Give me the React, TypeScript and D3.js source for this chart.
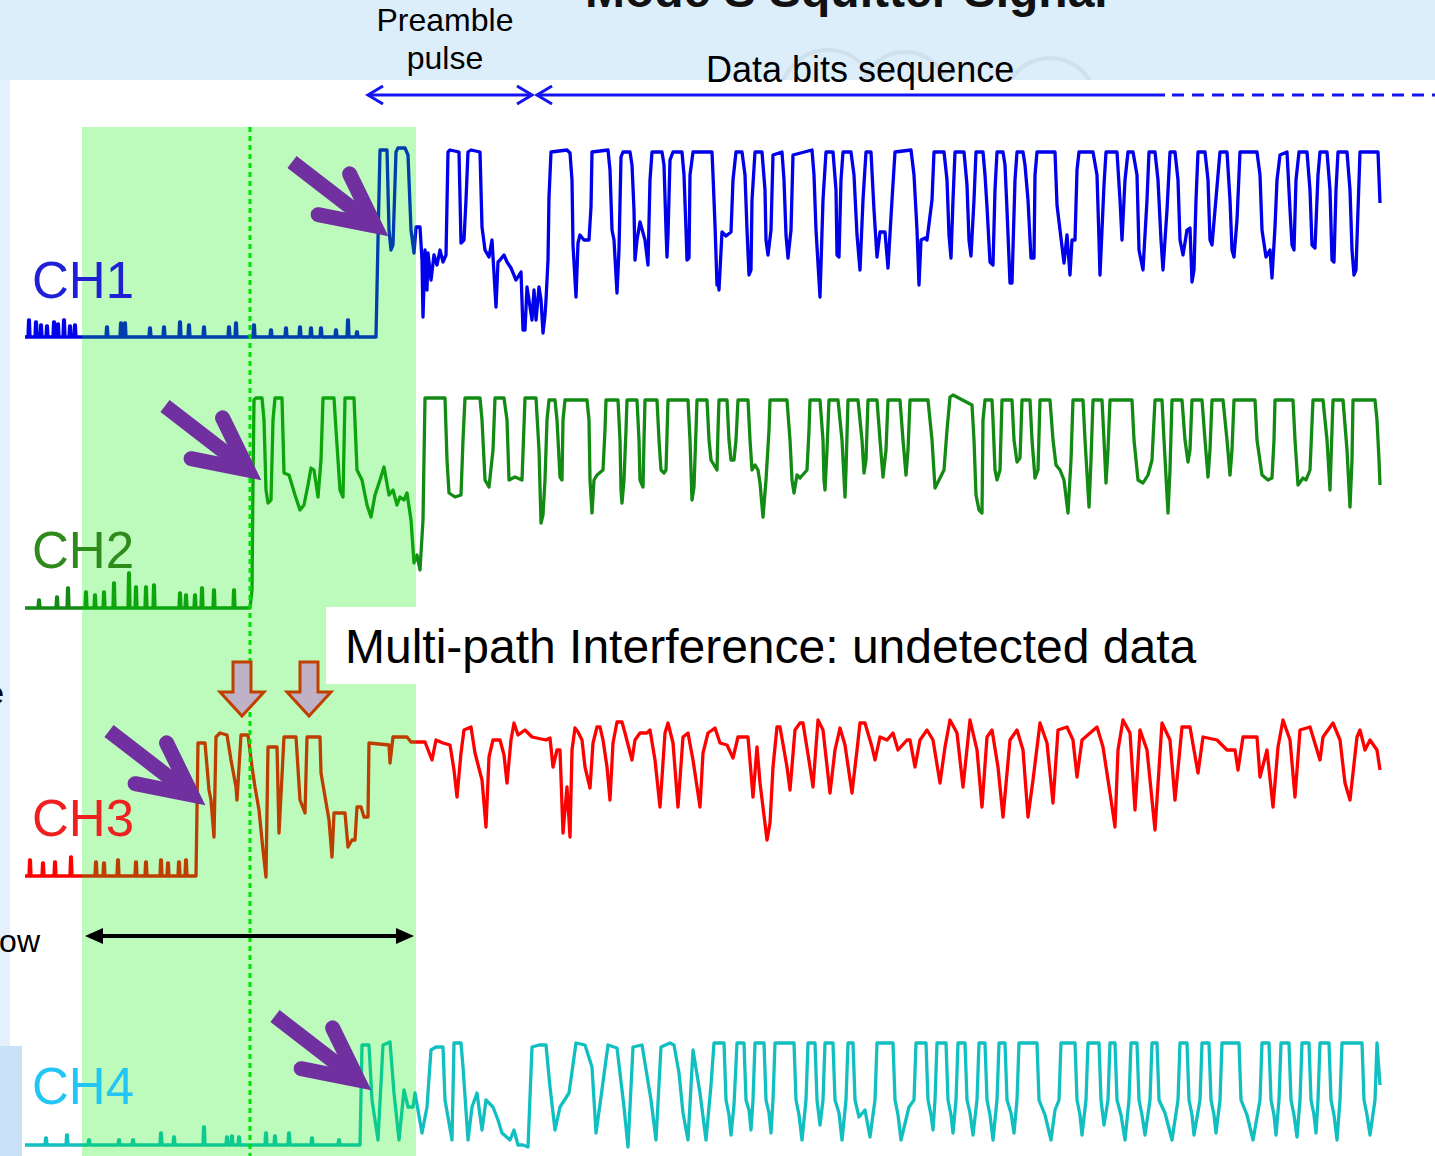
import React, { useEffect, useRef } from 'react';
import * as d3 from 'd3';

const width = 1435;
const height = 1156;

// sample index (digitizer clock) and amplitude counts above each channel's noise floor
const labels = ['CH1', 'CH2', 'CH3', 'CH4'];

const ch1Noise = [[4,17],[11,15],[16,12],[22,11],[29,15],[33,13],[39,17],[45,11],[50,12],[82,10],[96,14],[100,14],[125,9],[139,10],[155,15],[164,12],[179,10],[204,10],[211,14],[229,12],[246,7],[261,9],[275,10],[286,9],[296,9],[311,7],[323,17],[332,5]];
const ch1Trace = [[351,0],[353,97],[355,187],[362,187],[364,107],[366,87],[368,92],[371,185],[373,189],[380,189],[383,182],[386,107],[389,84],[391,110],[395,110],[397,77],[398,20],[400,87],[402,47],[403,84],[406,57],[409,82],[412,72],[415,87],[418,75],[421,82],[423,185],[425,187],[434,185],[436,94],[439,97],[441,137],[443,185],[446,187],[455,185],[457,110],[460,87],[464,80],[467,97],[471,30],[473,75],[475,77],[479,82],[482,75],[486,69],[491,57],[496,65],[498,7],[500,7],[502,50],[504,37],[507,17],[509,47],[511,17],[514,50],[516,37],[518,4],[520,22],[521,37],[523,77],[524,140],[526,185],[542,187],[545,184],
  [547,157],[548,92],[551,40],[553,94],[555,102],[559,97],[564,97],[566,130],[567,185],[583,187],
  [585,167],[587,107],[589,97],[592,44],[594,87],[596,180],[598,185],[605,185],
  [607,172],[609,127],[610,77],[612,97],[615,115],[620,97],[623,72],[625,157],[627,185],[637,185],
  [639,172],[641,107],[642,80],[643,102],[645,177],[648,185],[657,185],
  [659,162],[661,107],[662,77],[664,79],[665,162],[668,185],[687,185],
  [688,162],[690,112],[692,52],[693,62],[694,47],[697,105],[701,101],[706,105],[708,157],[711,185],[717,185],
  [720,162],[722,107],[724,62],[726,67],[727,137],[730,185],[737,185],
  [740,147],[741,97],[743,82],[746,107],[748,182],[757,185],
  [759,157],[761,102],[763,79],[766,107],[768,182],[787,187],
  [789,162],[791,107],[795,40],[798,137],[801,185],[808,185],
  [811,147],[812,82],[814,80],[816,157],[818,185],[826,185],
  [829,162],[832,102],[835,67],[838,137],[841,185],[846,185],
  [849,127],[852,80],[855,105],[860,105],[863,69],[867,137],[870,185],[886,187],
  [889,162],[892,107],[894,52],[896,97],[900,99],[902,97],[907,137],[909,185],[919,185],
  [922,157],[924,102],[926,79],[928,137],[930,185],[939,185],
  [942,152],[944,97],[946,81],[949,137],[951,185],[958,185],
  [960,162],[962,130],[965,75],[968,72],[970,147],[972,185],[978,185],
  [980,172],[982,127],[985,54],[987,54],[990,157],[992,185],[998,185],
  [1000,172],[1003,137],[1006,79],[1009,79],[1010,162],[1012,185],[1030,185],
  [1032,132],[1035,107],[1039,74],[1042,102],[1045,62],[1047,97],[1050,97],[1052,167],[1054,185],[1068,185],
  [1072,162],[1074,97],[1075,62],[1079,152],[1081,185],[1092,185],
  [1095,137],[1097,97],[1100,157],[1103,185],[1108,185],
  [1112,162],[1114,87],[1118,67],[1122,137],[1124,185],[1130,185],
  [1133,157],[1136,97],[1138,67],[1142,127],[1145,185],[1150,185],
  [1153,157],[1155,97],[1158,82],[1162,107],[1165,109],[1167,55],[1169,67],[1171,137],[1173,185],[1180,185],
  [1183,157],[1185,97],[1187,92],[1193,162],[1195,185],[1202,185],
  [1205,137],[1207,87],[1209,80],[1212,117],[1215,185],[1232,185],
  [1235,162],[1237,107],[1241,80],[1245,87],[1247,59],[1250,110],[1252,157],[1255,182],[1262,185],
  [1265,127],[1267,92],[1269,87],[1271,157],[1274,185],[1282,185],
  [1285,147],[1287,92],[1290,89],[1293,162],[1295,185],[1302,185],
  [1305,147],[1307,77],[1309,75],[1311,147],[1313,185],[1322,185],
  [1325,147],[1327,87],[1329,62],[1331,67],[1333,127],[1335,185],[1353,185],[1355,134]];

const ch2Noise = [[14,8],[32,11],[43,20],[61,16],[70,13],[79,16],[89,25],[104,35],[111,21],[121,21],[129,23],[155,15],[161,13],[170,13],[177,20],[189,18],[209,18]];
const ch2Trace = [[225,0],[227,18],[228,128],[229,208],[231,210],[237,210],[239,188],[241,118],[243,105],[246,108],[248,188],[250,210],[257,210],[259,135],[264,133],[270,113],[275,98],[279,103],[283,123],[286,140],[289,138],[293,111],[296,148],[298,210],[302,210],[309,210],[311,178],[315,118],[318,111],[320,210],[329,210],[332,138],[337,128],[342,103],[346,91],[350,113],[355,128],[359,141],[364,113],[368,118],[372,103],[375,111],[379,108],[382,115],[386,88],[389,45],[392,53],[395,38],[398,88],[400,210],
  [420,210],[422,148],[424,115],[430,111],[436,113],[438,168],[440,210],[455,210],[457,188],[460,128],[464,121],[468,158],[470,210],[479,210],[482,188],[484,128],[490,131],[497,128],[500,210],[511,210],[514,158],[516,85],[518,93],[520,128],[522,188],[524,208],[530,208],
  [532,188],[535,131],[537,128],[538,188],[540,208],[562,208],[564,188],[565,128],[567,95],[569,128],[572,133],[578,138],[580,178],[581,208],[593,208],[595,168],[596,118],[597,105],[599,128],[601,178],[602,208],[612,208],[614,168],[615,128],[618,121],[619,168],[620,208],[632,208],[634,168],[636,138],[639,135],[641,138],[643,208],[663,208],[665,168],[667,108],[669,121],[671,178],[672,208],[682,208],[684,168],[686,148],[689,143],[692,138],[693,178],[694,208],[702,208],[704,168],[706,148],[709,148],[711,168],[713,208],[723,208],[725,168],[727,138],[730,143],[733,138],[735,125],[738,91],[741,128],[744,178],[745,208],[762,208],[765,168],[767,128],[769,115],[772,133],[775,130],[782,138],[784,178],[785,208],[795,208],[798,168],[799,128],[800,118],[802,158],[804,208],[813,208],[817,168],[820,111],[821,138],[823,208],[833,208],[837,168],[839,135],[841,148],[843,208],[852,208],[855,168],[858,131],[861,158],[863,208],[875,208],[878,168],[881,133],[883,158],[885,208],[903,208],[907,168],[910,120],[915,130],[919,138],[922,178],[925,211],[928,213],[947,203],[949,168],[951,113],[954,98],[957,95],[958,188],[960,208],
  [967,208],[968,188],[970,138],[972,128],[975,138],[977,208],[987,208],[989,168],[992,146],[995,150],[996,178],[997,208],[1005,208],[1007,168],[1010,130],[1013,138],[1015,208],[1025,208],[1028,168],[1031,143],[1035,138],[1039,128],[1043,95],[1046,148],[1048,208],[1058,208],[1060,168],[1064,101],[1066,148],[1068,208],[1077,208],[1079,168],[1081,125],[1083,158],[1085,208],[1107,208],[1109,168],[1113,128],[1118,125],[1123,133],[1127,148],[1130,208],[1137,208],[1139,168],[1143,95],[1145,138],[1147,208],[1157,208],[1160,168],[1163,146],[1165,158],[1167,208],[1177,208],[1180,168],[1183,131],[1185,158],[1187,208],[1198,208],[1202,168],[1205,133],[1207,158],[1209,208],[1230,208],[1232,168],[1237,133],[1243,128],[1247,130],[1249,168],[1250,208],[1268,208],[1270,168],[1273,123],[1278,130],[1281,128],[1285,138],[1288,208],[1298,208],[1302,168],[1305,118],[1306,148],[1308,208],[1318,208],[1322,158],[1325,101],[1327,148],[1328,208],[1350,208],[1352,188],[1354,148],[1355,123]];

const ch3Noise = [[5,16],[18,13],[30,14],[46,19],[71,14],[79,13],[93,16],[111,14],[121,14],[136,16],[143,13],[154,14],[161,16]];
const ch3Trace = [[171,0],[173,133],[180,133],[184,86],[186,76],[189,39],[191,139],[195,143],[202,141],[206,116],[211,89],[212,76],[216,141],[223,141],[227,109],[230,89],[234,66],[238,26],[241,-1],[243,129],[252,129],[254,43],[259,139],[271,139],[275,76],[280,63],[282,139],[295,139],[296,103],[304,56],[307,19],[309,63],[320,63],[323,29],[327,36],[330,36],[332,69],[336,69],[339,59],[343,59],[344,133],[364,131],[365,113],[368,139],[382,139],[386,134],[393,134],[400,134],[407,116],[411,136],[418,133],[425,131],[429,106],[432,79],[436,123],[439,146],[446,149],[450,123],[457,96],[461,49],[464,119],[468,136],[475,136],[479,121],[482,93],[486,136],[489,153],[493,141],[500,146],[507,139],[521,136],[525,138],[528,109],[532,126],[535,126],[538,43],[542,89],[545,39],[547,126],[550,148],[553,144],[557,136],[560,109],[565,88],[568,133],[572,149],[575,149],[578,136],[582,109],[585,76],[588,133],[592,154],[597,154],[600,143],[607,116],[610,136],[615,143],[622,143],[625,146],[630,116],[635,69],[640,143],[643,153],[648,133],[653,69],[658,139],[663,143],[668,116],[675,69],[678,123],[683,143],[690,148],[695,133],[702,131],[708,118],[713,139],[723,139],[728,79],[732,129],[735,93],[742,36],[745,53],[748,109],[752,149],[755,149],[762,109],[765,86],[770,146],[775,153],[778,153],[785,109],[788,89],[793,156],[798,146],[805,83],[810,126],[815,148],[820,131],[827,83],[832,126],[835,153],[840,153],[847,129],[850,116],[855,139],[862,136],[868,143],[873,126],[882,136],[885,136],[890,109],[895,136],[902,146],[908,136],[915,93],[920,129],[925,156],[932,143],[938,89],[945,156],[952,126],[957,69],[962,139],[967,146],[973,109],[978,59],[985,136],[992,146],[998,126],[1003,59],[1008,96],[1015,153],[1022,133],[1028,73],[1033,146],[1042,149],[1048,136],[1052,99],[1057,136],[1072,149],[1078,129],[1085,83],[1090,49],[1093,126],[1098,156],[1105,143],[1110,66],[1115,146],[1122,126],[1130,46],[1137,153],[1145,136],[1150,76],[1157,149],[1165,149],[1173,103],[1178,139],[1192,136],[1202,126],[1210,126],[1213,106],[1218,139],[1232,139],[1235,99],[1242,126],[1248,69],[1253,129],[1258,156],[1265,136],[1270,79],[1275,146],[1285,149],[1295,116],[1298,139],[1308,153],[1315,136],[1320,93],[1325,76],[1332,139],[1335,146],[1340,126],[1345,136],[1352,126],[1355,106]];

const ch4Noise = [[21,7],[42,10],[64,5],[94,5],[108,5],[136,12],[149,8],[179,18],[202,8],[207,9],[214,8],[241,12],[250,9],[264,12],[287,7],[314,5]];
const ch4Trace = [[335,0],[337,100],[344,100],[347,45],[353,5],[358,100],[365,103],[369,52],[374,5],[379,55],[383,38],[388,38],[390,52],[397,12],[402,38],[406,95],[411,98],[418,98],[420,45],[427,5],[429,102],[436,102],[438,78],[443,5],[447,38],[452,52],[457,15],[461,45],[468,38],[473,25],[477,12],[485,5],[489,15],[493,0],[498,0],[503,-2],[507,98],[514,100],[521,100],[525,58],[530,15],[535,38],[544,52],[551,102],[560,100],[567,78],[571,12],[576,48],[583,100],[592,97],[599,38],[603,-2],[608,98],[617,100],[626,45],[631,5],[636,98],[645,102],[649,100],[654,72],[658,32],[663,5],[668,95],[675,52],[681,5],
  [686,60],[689,102],[699,102],[701,45],[704,30],[706,10],[709,40],[712,102],[719,102],[721,45],[724,35],[726,15],[728,45],[730,102],[739,102],[741,45],[744,32],[746,12],[748,45],[750,102],[769,102],[771,45],[774,30],[777,5],[781,45],[783,102],[790,102],[792,45],[795,20],[798,45],[800,102],[808,102],[810,45],[814,32],[817,5],[821,45],[823,102],[828,102],[830,45],[834,28],[840,35],[845,8],[850,45],[852,102],[868,102],[870,45],[873,30],[876,5],[884,38],[889,45],[891,102],[901,102],[903,45],[906,30],[908,15],[910,45],[912,102],[921,102],[923,45],[926,30],[928,12],[931,45],[933,102],[940,102],[942,45],[945,32],[948,10],[952,45],[954,102],[960,102],[962,45],[965,30],[968,5],[972,45],[974,102],[980,102],[982,45],[986,32],[989,12],[992,45],[994,102],[1012,102],[1014,45],[1020,30],[1026,5],[1030,35],[1034,45],[1036,102],[1050,102],[1052,45],[1055,30],[1057,10],[1061,45],[1063,102],[1074,102],[1076,45],[1079,20],[1083,45],[1085,102],[1090,102],[1092,45],[1096,30],[1100,5],[1104,45],[1106,102],[1112,102],[1114,45],[1117,30],[1120,10],[1125,45],[1127,102],[1132,102],[1134,45],[1140,32],[1147,5],[1153,45],[1155,102],[1162,102],[1164,45],[1167,30],[1169,10],[1175,45],[1177,102],[1184,102],[1186,45],[1189,30],[1191,12],[1195,45],[1197,102],[1214,102],[1216,45],[1222,30],[1228,5],[1235,45],[1237,102],[1244,102],[1246,45],[1249,30],[1251,10],[1254,45],[1256,102],[1264,102],[1266,45],[1269,30],[1272,8],[1275,45],[1277,102],[1284,102],[1286,45],[1289,30],[1291,12],[1293,45],[1295,102],[1304,102],[1306,45],[1309,30],[1312,5],[1315,45],[1317,102],[1337,102],[1339,45],[1342,30],[1345,10],[1350,45],[1352,102],[1355,60]];

const noiseSets = [ch1Noise, ch2Noise, ch3Noise, ch4Noise];
const traceSets = [ch1Trace, ch2Trace, ch3Trace, ch4Trace];
// full-scale counts per channel
const fullScale = [187, 210, 156, 102];

const traceColors = ['#0000ea', '#138a13', '#ff0000', '#12bfc0'];
const labelColors = ['#1f1fd6', '#2f8a1c', '#ee2020', '#22c6f4'];
// floor / top pixel rows of each strip
const strips = [[337, 150], [608, 398], [876, 720], [1145, 1043]];
const labelBaselines = [298, 568, 836, 1104];

// onset sample for the purple markers, per channel
const onsets = [[350, 111], [223, 138], [167, 81], [333, 65]];
// sample positions of the multipath marks on CH3
const multipathMarks = [217, 284];
// detection window, in samples
const windowStart = 57;
const windowEnd = 391;
const refSample = 225;

export default function App() {
  const ref = useRef<SVGSVGElement>(null);

  useEffect(() => {
    const svg = d3.select(ref.current);
    svg.selectAll('*').remove();

    const x = d3.scaleLinear().domain([0, 1355]).range([25, 1380]);
    const font = 'Liberation Sans, Arial, sans-serif';

    // slide background
    svg.append('rect').attr('width', width).attr('height', height).attr('fill', '#e4f1fc');
    svg.append('rect').attr('x', 0).attr('y', 0).attr('width', width).attr('height', 80).attr('fill', '#ddeefb');
    [[828, 98, 48], [905, 96, 44], [1050, 104, 46]].forEach(c => {
      svg.append('circle').attr('cx', c[0]).attr('cy', c[1]).attr('r', c[2])
        .attr('fill', 'none').attr('stroke', '#c9dbe6').attr('stroke-width', 4).attr('opacity', 0.7);
    });

    svg.append('text').attr('x', 585).attr('y', 7)
      .attr('font-family', font).attr('font-weight', 'bold')
      .attr('font-size', 48).attr('fill', '#111').text('Mode S Squitter Signal');

    // white plot panel
    svg.append('rect').attr('x', 10).attr('y', 80).attr('width', width - 10).attr('height', height - 80).attr('fill', '#ffffff');
    svg.append('rect').attr('x', 0).attr('y', 1046).attr('width', 22).attr('height', 110).attr('fill', '#c9e2f8');

    const line = d3.line<number[]>().x(d => x(d[0]));

    traceSets.forEach((trace, i) => {
      const y = d3.scaleLinear().domain([0, fullScale[i]]).range(strips[i]);
      const pts: number[][] = [[0, 0]];
      noiseSets[i].forEach(s => {
        pts.push([s[0] - 1, 0], [s[0] - 0.4, s[1]], [s[0] + 0.4, s[1]], [s[0] + 1, 0]);
      });
      trace.forEach(p => pts.push(p));
      svg.append('path')
        .attr('d', line.y(d => y(d[1]))(pts))
        .attr('fill', 'none')
        .attr('stroke', traceColors[i])
        .attr('stroke-width', 3.3)
        .attr('stroke-linejoin', 'round');
    });

    // detection window overlay
    svg.append('rect')
      .attr('x', x(windowStart)).attr('y', 127)
      .attr('width', x(windowEnd) - x(windowStart)).attr('height', height - 127)
      .attr('fill', '#00f000').attr('opacity', 0.26);

    svg.append('rect').attr('x', 326).attr('y', 607).attr('width', width - 326).attr('height', 77).attr('fill', '#ffffff');
    svg.append('text').attr('x', 345).attr('y', 663)
      .attr('font-family', font).attr('font-size', 48)
      .attr('fill', '#000').text('Multi-path Interference: undetected data');

    svg.append('line')
      .attr('x1', x(refSample)).attr('x2', x(refSample)).attr('y1', 127).attr('y2', height)
      .attr('stroke', '#00e000').attr('stroke-width', 3).attr('stroke-dasharray', '5,4');

    // channel labels
    labels.forEach((l, i) => {
      svg.append('text').attr('x', 32).attr('y', labelBaselines[i])
        .attr('font-family', font).attr('font-size', 51)
        .attr('fill', labelColors[i]).text(l);
    });

    // purple onset arrows
    onsets.forEach((o, i) => {
      const y = d3.scaleLinear().domain([0, fullScale[i]]).range(strips[i]);
      const tip = [x(o[0]), y(o[1])];
      const tail = [tip[0] - 83, tip[1] - 64];
      const len = Math.hypot(tail[0] - tip[0], tail[1] - tip[1]);
      const ux = (tail[0] - tip[0]) / len;
      const uy = (tail[1] - tip[1]) / len;
      const rot = (a: number) => [tip[0] + 58 * (ux * Math.cos(a) - uy * Math.sin(a)), tip[1] + 58 * (ux * Math.sin(a) + uy * Math.cos(a))];
      const a1 = rot(0.46);
      const a2 = rot(-0.46);
      svg.append('line')
        .attr('x1', tail[0]).attr('y1', tail[1]).attr('x2', tip[0] + ux * 14).attr('y2', tip[1] + uy * 14)
        .attr('stroke', '#7030a0').attr('stroke-width', 15);
      svg.append('path')
        .attr('d', `M${a1[0]},${a1[1]}L${tip[0]},${tip[1]}L${a2[0]},${a2[1]}`)
        .attr('fill', 'none').attr('stroke', '#7030a0').attr('stroke-width', 15)
        .attr('stroke-linejoin', 'miter').attr('stroke-linecap', 'round');
    });

    // multipath down arrows over CH3
    multipathMarks.forEach(m => {
      const c = x(m);
      svg.append('path')
        .attr('d', `M${c - 9},662L${c + 9},662L${c + 9},692L${c + 22},692L${c},716L${c - 22},692L${c - 9},692Z`)
        .attr('fill', '#bfb2c7').attr('stroke', '#c04000').attr('stroke-width', 3).attr('stroke-linejoin', 'miter');
    });

    // window extent arrow
    const wy = 936;
    svg.append('line').attr('x1', x(windowStart) + 10).attr('x2', x(windowEnd) - 10).attr('y1', wy).attr('y2', wy)
      .attr('stroke', '#000').attr('stroke-width', 4);
    svg.append('path').attr('d', `M${x(windowStart) + 3},${wy}L${x(windowStart) + 21},${wy - 8}L${x(windowStart) + 21},${wy + 8}Z`).attr('fill', '#000');
    svg.append('path').attr('d', `M${x(windowEnd) - 2},${wy}L${x(windowEnd) - 20},${wy - 8}L${x(windowEnd) - 20},${wy + 8}Z`).attr('fill', '#000');

    svg.append('text').attr('x', 40).attr('y', 952).attr('text-anchor', 'end')
      .attr('font-family', font).attr('font-size', 32).attr('fill', '#000').text('Window');
    svg.append('text').attr('x', 4).attr('y', 704).attr('text-anchor', 'end')
      .attr('font-family', font).attr('font-size', 32).attr('fill', '#000').text('e');

    // preamble / data annotation
    const blue = '#1414f0';
    const ay = 95;
    const chevron = (tx: number, dir: number) =>
      svg.append('path').attr('d', `M${tx + dir * 15},${ay - 9}L${tx},${ay}L${tx + dir * 15},${ay + 9}`)
        .attr('fill', 'none').attr('stroke', blue).attr('stroke-width', 3);
    svg.append('line').attr('x1', 368).attr('x2', 532).attr('y1', ay).attr('y2', ay).attr('stroke', blue).attr('stroke-width', 3);
    chevron(368, 1);
    chevron(532, -1);
    chevron(537, 1);
    svg.append('line').attr('x1', 537).attr('x2', 1165).attr('y1', ay).attr('y2', ay).attr('stroke', blue).attr('stroke-width', 3);
    svg.append('line').attr('x1', 1172).attr('x2', width).attr('y1', ay).attr('y2', ay)
      .attr('stroke', blue).attr('stroke-width', 3).attr('stroke-dasharray', '12,8');

    const t = (tx: number, ty: number, s: string, size: number, anchor: string) =>
      svg.append('text').attr('x', tx).attr('y', ty).attr('text-anchor', anchor)
        .attr('font-family', font).attr('font-size', size).attr('fill', '#000').text(s);
    t(445, 31, 'Preamble', 32, 'middle');
    t(445, 69, 'pulse', 32, 'middle');
    t(706, 82, 'Data bits sequence', 36, 'start');
  }, []);

  return (
    <svg ref={ref} width={width} height={height} viewBox={`0 0 ${width} ${height}`}
      style={{ position: 'absolute', left: 0, top: 0, display: 'block' }} />
  );
}
